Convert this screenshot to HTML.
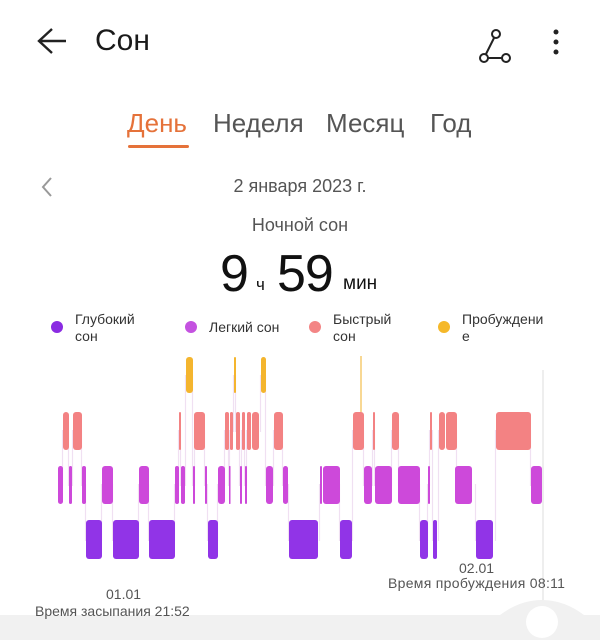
<!DOCTYPE html>
<html><head><meta charset="utf-8"><style>
body{margin:0;width:600px;height:640px;background:#fff;font-family:"Liberation Sans",sans-serif;position:relative;overflow:hidden}
.t{position:absolute;white-space:nowrap}
</style></head><body>
<svg width="600" height="640" style="position:absolute;left:0;top:0">
<path d="M66 41H40M52 29L39 41L52 53" stroke="#222" stroke-width="2.4" fill="none"/>
<g stroke="#222" stroke-width="2" fill="none"><circle cx="496" cy="34" r="4"/><circle cx="484" cy="58" r="4"/><circle cx="506" cy="58" r="4"/><path d="M494 38L486 54M488 58H502"/></g>
<circle cx="556" cy="32" r="2.5" fill="#222"/><circle cx="556" cy="42" r="2.5" fill="#222"/><circle cx="556" cy="52" r="2.5" fill="#222"/>
<rect x="128" y="145" width="61" height="3" rx="1.5" fill="#e5723a"/>
<path d="M51 178L43 187L51 196" stroke="#999" stroke-width="2" fill="none"/>
<circle cx="57" cy="327" r="6" fill="#8a2be2"/><circle cx="191" cy="327" r="6" fill="#c452e0"/><circle cx="315" cy="327" r="6" fill="#f38585"/><circle cx="444" cy="327" r="6" fill="#f5b82a"/>
<g id="chart"></g>
<line x1="543" y1="370" x2="543" y2="620" stroke="#ddd" stroke-width="1"/>
<rect x="0" y="615" width="600" height="25" fill="#f1f1f1"/>
<path d="M500 615Q520 600 542 600Q564 600 584 615Z" fill="#f1f1f1"/>
<circle cx="542" cy="622" r="16" fill="#fff"/>
</svg>
<div class="t" style="left:95px;top:24px;font-size:30px;color:#1a1a1a">Сон</div>
<div class="t" style="left:127px;top:108px;font-size:26px;color:#e5723a">День</div>
<div class="t" style="left:213px;top:108px;font-size:26px;color:#555">Неделя</div>
<div class="t" style="left:326px;top:108px;font-size:26px;color:#555">Месяц</div>
<div class="t" style="left:430px;top:108px;font-size:26px;color:#555">Год</div>
<div class="t" style="left:0;width:600px;text-align:center;top:176px;font-size:18px;color:#555">2 января 2023 г.</div>
<div class="t" style="left:0;width:600px;text-align:center;top:215px;font-size:18px;color:#555">Ночной сон</div>
<div class="t" style="left:220px;top:244px;font-size:52px;color:#111;letter-spacing:-1px">9</div>
<div class="t" style="left:256px;top:275px;font-size:17px;color:#111">ч</div>
<div class="t" style="left:277px;top:244px;font-size:52px;color:#111;letter-spacing:-1px">59</div>
<div class="t" style="left:343px;top:273px;font-size:19px;color:#111">мин</div>
<div class="t" style="left:75px;top:311px;font-size:14px;color:#333;line-height:17px">Глубокий<br>сон</div>
<div class="t" style="left:209px;top:319px;font-size:14px;color:#333">Легкий сон</div>
<div class="t" style="left:333px;top:311px;font-size:14px;color:#333;line-height:17px">Быстрый<br>сон</div>
<div class="t" style="left:462px;top:311px;font-size:14px;color:#333;line-height:17px">Пробуждени<br>е</div>
<div class="t" style="left:106px;top:586px;font-size:14px;color:#555">01.01</div>
<div class="t" style="left:35px;top:603px;font-size:14px;color:#555">Время засыпания 21:52</div>
<div class="t" style="left:459px;top:560px;font-size:14px;color:#555">02.01</div>
<div class="t" style="left:388px;top:575px;font-size:14px;color:#555;letter-spacing:0.3px">Время пробуждения 08:11</div>
<script>
var Y={A:[357,393],R:[412,450],L:[466,504],D:[520,559]};
var C={A:"#f4b52e",R:"#f38283",L:"#cd49da",D:"#9134e7"};
var s="L58-63 R63-69 L69-72 R73-82 L82-86 D86-102 L102-113 D113-139 L139-149 D149-175 L175-179 R179-181 L181-185 A186-193 L193-195 R194-205 L205-207 D208-218 L218-225 R225-229 L229-230 R230-233 A234-236 R236-240 L240-242 R242-245 L245-247 R247-251 R252-259 A261-266 L266-273 R274-283 L283-288 D289-318 L320-322 L323-340 D340-352 R353-364 L364-372 R373-375 L375-392 R392-399 L398-420 D420-428 L428-430 R430-432 D433-437 R439-445 R446-457 L455-472 D476-493 R496-531 L531-542".split(" ");
var h="",px=null;
s.forEach(function(t){var l=t[0],a=t.slice(1).split("-"),x1=+a[0],x2=+a[1],y=Y[l];
if(px&&px.y!==y){var c=Math.max(px.x,x1)-0.5;var y1=Math.min(px.y[0],y[0]),y2=Math.max(px.y[1],y[1]);h+='<line x1="'+c+'" y1="'+(y1+18)+'" x2="'+c+'" y2="'+(y2-18)+'" stroke="#f0e0f2" stroke-width="1.2"/>';}
px={x:x2,y:y};});
s.forEach(function(t){var l=t[0],a=t.slice(1).split("-"),x1=+a[0],x2=+a[1],y=Y[l];
h+='<rect x="'+x1+'" y="'+y[0]+'" width="'+Math.max(1.5,x2-x1)+'" height="'+(y[1]-y[0])+'" rx="'+Math.min(3,(x2-x1)/2)+'" fill="'+C[l]+'"/>';});
h+='<line x1="361" y1="356" x2="361" y2="412" stroke="#f2b12a" stroke-width="1"/>';
document.getElementById("chart").innerHTML=h;
</script>
</body></html>
